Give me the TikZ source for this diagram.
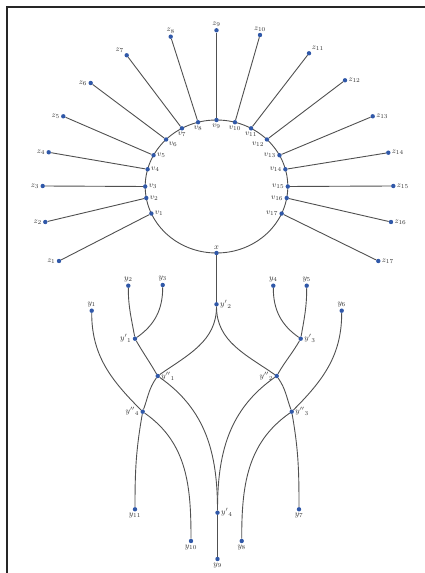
\documentclass[tikz,border=0pt]{standalone}
\usetikzlibrary{calc}
\definecolor{dotblue}{RGB}{48,88,168}
\definecolor{edgegray}{RGB}{80,80,80}
\tikzset{
  dot/.style={circle, fill=dotblue, inner sep=0pt, minimum size=4.4pt},
  edge/.style={draw=edgegray, line width=0.9pt},
  every label/.style={font=\footnotesize, text=black!80, inner sep=1pt},
}
\begin{document}
\begin{tikzpicture}[x=1pt,y=1pt]
\useasboundingbox (0,0) rectangle (425,573);
\draw[line width=1.6pt, black!85] (7,0) -- (7,566) -- (425,566);
% circle with the v nodes
\coordinate (c) at (216.5,386.5);
\draw[edge] (c) ellipse [x radius=71.3, y radius=66.5];
\foreach \i/\a/\p in {1/204/right, 2/190/right, 3/180/right, 4/165/right, 5/152/right,
  6/135/below right, 7/119/below, 8/105/below, 9/90/below, 10/75/below, 11/61/below,
  12/45/below left, 13/28/left, 14/15/left, 15/0/left, 16/-10/left, 17/-24/left}
  \node[dot, label=\p:$v_{\i}$] (v\i) at ($(c)+(\a:71.3 and 66.5)$) {};
% outer z nodes
\foreach \i/\px/\py/\p in {1/59/312/left, 2/45.3/351/left, 3/42.7/387/left, 4/48.7/420.7/left,
  5/63.3/456.7/left, 6/90.7/490/left, 7/126.7/517.7/above left, 8/170.7/536.3/above,
  9/216.5/542.7/above, 10/260/538/above, 11/309/519.7/above right, 12/345/492.7/right,
  13/372.7/456.7/right, 14/388.3/420.3/right, 15/393.3/387/right, 16/391/351/right,
  17/378.3/312/right}
  \node[dot, label=\p:$z_{\i}$] (z\i) at (\px,\py) {};
\foreach \i in {1,...,17}
  \draw[edge] (v\i) -- (z\i);
% lower tree
\node[dot, label=above:$x$] (x) at (216.5,320) {};
\node[dot, label=above:$y_1$] (y1) at (91.7,262.3) {};
\node[dot, label=above:$y_2$] (y2) at (128.3,287.3) {};
\node[dot, label=above:$y_3$] (y3) at (162.7,288) {};
\node[dot, label=above:$y_4$] (y4) at (273.3,287.3) {};
\node[dot, label=above:$y_5$] (y5) at (306.7,287.3) {};
\node[dot, label=above:$y_6$] (y6) at (341.7,262.3) {};
\node[dot, label=right:${y'}_2$] (yp2) at (216.5,268.7) {};
\node[dot, label=left:${y'}_1$] (yp1) at (135,234.3) {};
\node[dot, label=right:${y'}_3$] (yp3) at (300.7,234.3) {};
\node[dot, label=right:${y''}_1$] (ypp1) at (157.7,197) {};
\node[dot, label=left:${y''}_2$] (ypp2) at (276.7,197) {};
\node[dot, label=left:${y''}_4$] (ypp4) at (142.7,161.3) {};
\node[dot, label=right:${y''}_3$] (ypp3) at (291.7,161.3) {};
\node[dot, label=below:$y_{11}$] (y11) at (135,63.7) {};
\node[dot, label=right:${y'}_4$] (yp4) at (217.5,60.3) {};
\node[dot, label=below:$y_7$] (y7) at (299,63.7) {};
\node[dot, label=below:$y_{10}$] (y10) at (191,32) {};
\node[dot, label=below:$y_8$] (y8) at (241.7,32) {};
\node[dot, label=below:$y_9$] (y9) at (217.5,14) {};
\draw[edge] (x) -- (yp2);
\draw[edge] (yp4) -- (y9);
% left half
\draw[edge] (y2) to[out=-90,in=100] (yp1);
\draw[edge] (y3) to[out=-90,in=35] (yp1);
\draw[edge] (yp1) to[out=-60,in=120] (ypp1);
\draw[edge] (yp2) to[out=-90,in=35] (ypp1);
\draw[edge] (ypp1) to[out=-125,in=70] (ypp4);
\draw[edge] (ypp1) to[out=-35,in=90] (yp4);
\draw[edge] (y1) to[out=-90,in=135] (ypp4);
\draw[edge] (ypp4) to[out=-100,in=90] (y11);
\draw[edge] (ypp4) to[out=-35,in=90] (y10);
% right half
\draw[edge] (y5) to[out=-90,in=80] (yp3);
\draw[edge] (y4) to[out=-90,in=145] (yp3);
\draw[edge] (yp3) to[out=-120,in=60] (ypp2);
\draw[edge] (yp2) to[out=-90,in=145] (ypp2);
\draw[edge] (ypp2) to[out=-55,in=110] (ypp3);
\draw[edge] (ypp2) to[out=-145,in=90] (yp4);
\draw[edge] (y6) to[out=-90,in=45] (ypp3);
\draw[edge] (ypp3) to[out=-80,in=90] (y7);
\draw[edge] (ypp3) to[out=-145,in=90] (y8);
\end{tikzpicture}
\end{document}
